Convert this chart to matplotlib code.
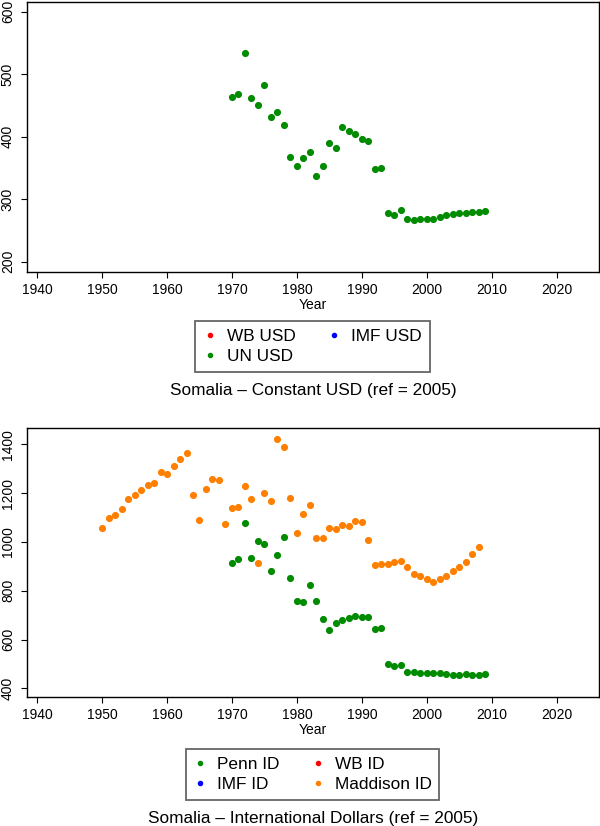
import matplotlib
matplotlib.use('Agg')
import matplotlib.pyplot as plt

plt.rcParams['font.family'] = ['Liberation Sans', 'DejaVu Sans']

# Constant USD (ref = 2005)
un_years = list(range(1970, 2010))
un_usd = [464, 468, 534, 462, 450, 483, 432, 440, 419, 367,
          353, 366, 376, 337, 353, 390, 381, 416, 409, 404,
          396, 393, 348, 350, 278, 275, 282, 268, 267, 267.5,
          268, 268.5, 271, 274, 276, 278, 278, 279, 280, 281]
wb_usd = []
imf_usd = []

# International dollars (ref = 2005)
penn_years = list(range(1970, 2010))
penn_id = [915, 930, 1079, 934, 1004, 993, 881, 945, 1019, 851,
           757, 752, 822, 759, 686, 638, 669, 680, 687, 698,
           692, 691, 645, 647, 501, 490, 494, 468, 466, 463,
           463, 463, 464, 459, 456, 455, 457, 456, 456, 460]
maddison_years = list(range(1950, 2009))
maddison_id = [1057, 1098, 1112, 1134, 1176, 1191, 1211, 1232, 1242, 1288,
               1277, 1311, 1341, 1364, 1191, 1088, 1216, 1259, 1252, 1072,
               1138, 1142, 1229, 1177, 915, 1202, 1166, 1422, 1390, 1181,
               1037, 1113, 1151, 1015, 1015, 1056, 1052, 1068, 1064, 1087,
               1080, 1007, 907, 908, 911, 918, 920, 896, 869, 859,
               848, 836, 848, 862, 880, 897, 919, 951, 979]
wb_id = []
imf_id = []

x_ticks = list(range(1940, 2021, 10))

GREEN = '#008B00'
ORANGE = '#FF7F00'
W, H = 600, 826


def px_axes(fig, left, top, right, bottom):
    return fig.add_axes([left / W, 1 - bottom / H, (right - left) / W, (bottom - top) / H])


def style_axes(ax, yticks):
    ax.set_xlim(1938.4, 2026.5)
    ax.set_xticks(x_ticks)
    ax.set_yticks(yticks)
    ax.tick_params(axis='both', labelsize=10, length=4.5, width=0.8, direction='out')
    ax.tick_params(axis='x', pad=3.5)
    ax.tick_params(axis='y', pad=4)
    for lab in ax.get_yticklabels():
        lab.set_rotation(90)
        lab.set_va('center')
    for s in ax.spines.values():
        s.set_linewidth(1.0)


fig = plt.figure(figsize=(6, 8.26), dpi=100)

ms = 4.1
leg_kw = dict(ncol=2, fontsize=12.4, frameon=True, fancybox=False, handlelength=0.8,
              handletextpad=0.6, columnspacing=1.8, labelspacing=0.3, borderpad=0.45,
              borderaxespad=0, markerscale=0.72, loc='upper center')

# top panel
ax1 = px_axes(fig, 26.7, 1.5, 599, 271.5)
h_wb, = ax1.plot(wb_usd, wb_usd, 'o', color='red', ms=ms, ls='none', label='WB USD')
h_un, = ax1.plot(un_years, un_usd, 'o', color=GREEN, ms=ms, ls='none', label='UN USD')
h_imf, = ax1.plot(imf_usd, imf_usd, 'o', color='blue', ms=ms, ls='none', label='IMF USD')
ax1.set_ylim(184, 616)
style_axes(ax1, [200, 300, 400, 500, 600])
fig.text(312.9 / W, 1 - 305 / H, 'Year', ha='center', va='center', fontsize=10)
leg1 = fig.legend(handles=[h_wb, h_un, h_imf], bbox_to_anchor=(312.5 / W, 1 - 321 / H), **leg_kw)
leg1.get_frame().set_edgecolor('#404040')
leg1.get_frame().set_linewidth(1.3)
fig.text(312.9 / W, 1 - 390.5 / H, 'Somalia \u2013 Constant USD (ref = 2005)',
         ha='center', va='center', fontsize=12.4)

# bottom panel
ax2 = px_axes(fig, 26.7, 428.3, 599, 697.3)
h_penn, = ax2.plot(penn_years, penn_id, 'o', color=GREEN, ms=ms, ls='none', label='Penn ID')
h_wbid, = ax2.plot(wb_id, wb_id, 'o', color='red', ms=ms, ls='none', label='WB ID')
h_imfid, = ax2.plot(imf_id, imf_id, 'o', color='blue', ms=ms, ls='none', label='IMF ID')
h_mad, = ax2.plot(maddison_years, maddison_id, 'o', color=ORANGE, ms=ms, ls='none', label='Maddison ID')
ax2.set_ylim(363, 1466)
style_axes(ax2, [400, 600, 800, 1000, 1200, 1400])
fig.text(312.9 / W, 1 - 730 / H, 'Year', ha='center', va='center', fontsize=10)
leg2 = fig.legend(handles=[h_penn, h_imfid, h_wbid, h_mad], bbox_to_anchor=(312.5 / W, 1 - 749 / H), **leg_kw)
leg2.get_frame().set_edgecolor('#404040')
leg2.get_frame().set_linewidth(1.3)
fig.text(312.9 / W, 1 - 818 / H, 'Somalia \u2013 International Dollars (ref = 2005)',
         ha='center', va='center', fontsize=12.4)

fig.savefig('out.png', dpi=100)
